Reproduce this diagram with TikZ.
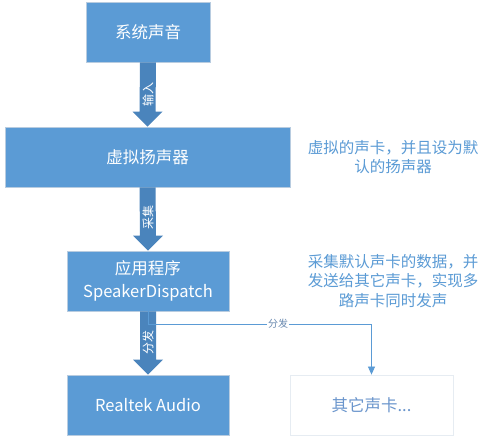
\documentclass[tikz,border=0pt]{standalone}
\usepackage{fontspec}
\setmainfont{Noto Sans CJK SC}
\usetikzlibrary{calc,arrows.meta,shadows}
\definecolor{boxblue}{HTML}{5B9BD5}
\definecolor{arrowblue}{HTML}{4A84BC}
\definecolor{boxedge}{HTML}{B8CCE0}
\definecolor{notec}{HTML}{5B9BD5}
\definecolor{ghostedge}{HTML}{E6ECF2}
\definecolor{ghosttext}{HTML}{6A95CC}
\definecolor{linelabel}{HTML}{6A8AB0}
\tikzset{
  bluebox/.style={draw=boxedge, line width=0.8pt, fill=boxblue, text=white, inner sep=0pt,
    font=\fontsize{16.5}{23}\selectfont, align=center,
    drop shadow={opacity=0.18, shadow xshift=1.2pt, shadow yshift=-1.2pt}},
  ghostbox/.style={draw=ghostedge, line width=0.8pt, fill=white, text=ghosttext, inner sep=0pt,
    font=\fontsize{16.5}{20}\selectfont},
  blocklabel/.style={text=white, font=\fontsize{12}{14}\selectfont, rotate=90, inner sep=0pt},
  note/.style={text=notec, font=\fontsize{15.5}{19.5}\selectfont, align=center, inner sep=0pt},
  thinlink/.style={draw=boxblue, line width=0.8pt, -{Triangle[width=7pt,length=8pt]}},
  linklabel/.style={fill=white, text=linelabel, font=\fontsize{10}{12}\selectfont, inner sep=1pt}
}
\newcommand{\blockarrow}[2]{%
  \fill[arrowblue] ($(#1.south)+(-8,0)$) -- ($(#2.north)+(-8,-15)$) -- ($(#2.north)+(-15,-15)$)
    -- (#2.north) -- ($(#2.north)+(15,-15)$) -- ($(#2.north)+(8,-15)$) -- ($(#1.south)+(8,0)$) -- cycle;}
\begin{document}
\begin{tikzpicture}[x=1pt,y=-1pt]
\useasboundingbox (0,0) rectangle (488,443);
\fill[white] (0,0) rectangle (488,443);

\node[bluebox, minimum width=124pt, minimum height=60pt] (sys) at (148,32) {系统声音};
\node[bluebox, minimum width=285pt, minimum height=60pt] (virt) at (147.5,157) {虚拟扬声器};
\node[bluebox, minimum width=162pt, minimum height=60pt] (app) at (148,281) {应用程序\\SpeakerDispatch};
\node[bluebox, minimum width=162pt, minimum height=60pt] (rt) at (148,405) {Realtek Audio};
\node[ghostbox, minimum width=163pt, minimum height=60pt] (other) at (371.5,405) {其它声卡...};

\blockarrow{sys}{virt}
\blockarrow{virt}{app}
\blockarrow{app}{rt}

\node[blocklabel] (l1) at (148,95) {输入};
\node[blocklabel] (l2) at (148,218) {采集};
\node[blocklabel] (l3) at (148,343) {分发};

\coordinate (bend) at (148,324);
\draw[thinlink] (app.south) -- (bend) -| (other.north);
\node[linklabel] (l4) at (278,324) {分发};

\node[note] (n1) at (393,157) {虚拟的声卡，并且设为默\\认的扬声器};
\node[note] (n2) at (393,281) {采集默认声卡的数据，并\\发送给其它声卡，实现多\\路声卡同时发声};
\end{tikzpicture}
\end{document}
